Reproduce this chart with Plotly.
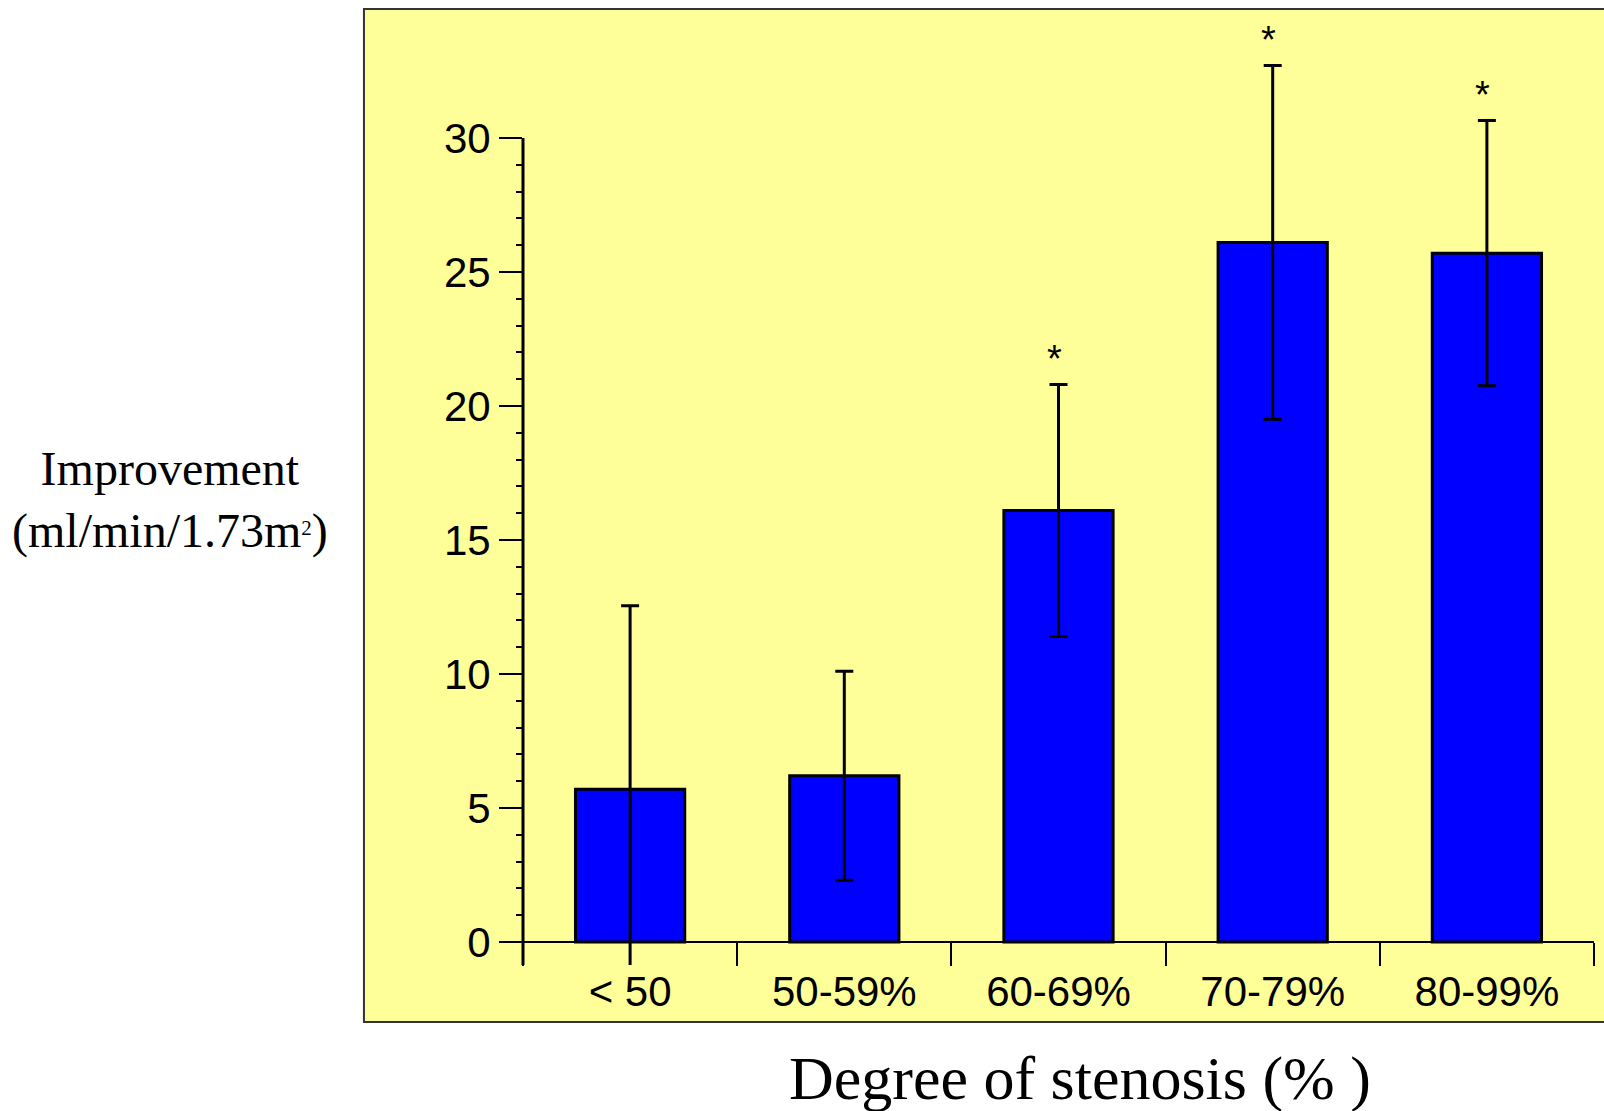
import plotly.graph_objects as go

# Data
categories = ["< 50", "50-59%", "60-69%", "70-79%", "80-99%"]
improvement = [5.7, 6.2, 16.1, 26.1, 25.7]
error = [6.85, 3.9, 4.7, 6.6, 4.95]
significance = ["", "", "*", "*", "*"]
y_major_ticks = [0, 5, 10, 15, 20, 25, 30]
y_minor_ticks = [v for v in range(1, 30) if v % 5 != 0]

Y_MIN, Y_MAX = -0.858, 34.81
AXIS_TOP = 30

fig = go.Figure()
fig.add_trace(go.Bar(
    x=categories, y=improvement, width=0.51,
    marker=dict(color="#0000FF", line=dict(color="black", width=3)),
    error_y=dict(type="data", array=error, visible=True, color="black",
                 thickness=3, width=9),
    cliponaxis=False,
))

for c, v, e, s in zip(categories, improvement, error, significance):
    if s:
        fig.add_annotation(x=c, y=v + e, text=s, showarrow=False,
                           xanchor="center", yanchor="bottom", yshift=3, xshift=-4,
                           font=dict(family="Liberation Sans, Arial", size=38, color="black"))

# yellow panel
fig.add_shape(type="rect", xref="paper", yref="paper",
              x0=-0.1485, x1=1.2, y0=-0.0596, y1=1.0,
              fillcolor="#FFFF99", line=dict(color="#333333", width=2), layer="below")
# y axis line (from bottom of plot to 30)
fig.add_shape(type="line", xref="paper", yref="y", x0=0, x1=0, y0=Y_MIN, y1=AXIS_TOP,
              line=dict(color="black", width=3))

fig.add_annotation(xref="paper", yref="paper", x=-0.3296, y=0.486,
                   xanchor="center", yanchor="middle",
                   text="Improvement<br>(ml/min/1.73m<span style='font-size:30px'><sup>2</sup></span>)",
                   showarrow=False,
                   font=dict(family="Liberation Serif, Times New Roman", size=48, color="black"),
                   align="center")
fig.add_annotation(xref="paper", yref="paper", x=0.52, y=-0.119,
                   xanchor="center", yanchor="middle",
                   text="Degree of stenosis (% )", showarrow=False,
                   font=dict(family="Liberation Serif, Times New Roman", size=62, color="black"))

x_pos = (0 - Y_MIN) / (Y_MAX - Y_MIN)

fig.update_layout(
    width=1604, height=1111,
    margin=dict(l=523, r=10, t=9, b=146),
    paper_bgcolor="white", plot_bgcolor="rgba(0,0,0,0)",
    showlegend=False,
    xaxis=dict(type="category", range=[-0.5, 4.5], anchor="free", position=x_pos,
               showline=True, linecolor="black", linewidth=2,
               ticks="outside", tickson="boundaries", ticklen=23, tickwidth=2, tickcolor="black",
               ticklabelstandoff=13,
               showgrid=False, zeroline=False,
               tickfont=dict(family="Liberation Sans, Arial", size=42, color="black")),
    yaxis=dict(range=[Y_MIN, Y_MAX], showline=False, showgrid=False, zeroline=False,
               tickvals=y_major_ticks, ticks="outside", ticklen=23, tickwidth=2, tickcolor="black",
               tickfont=dict(family="Liberation Sans, Arial", size=42, color="black"),
               minor=dict(tickvals=y_minor_ticks, ticks="outside", ticklen=6, tickwidth=2,
                          tickcolor="black", showgrid=False)),
)

fig.write_html("out.html")
